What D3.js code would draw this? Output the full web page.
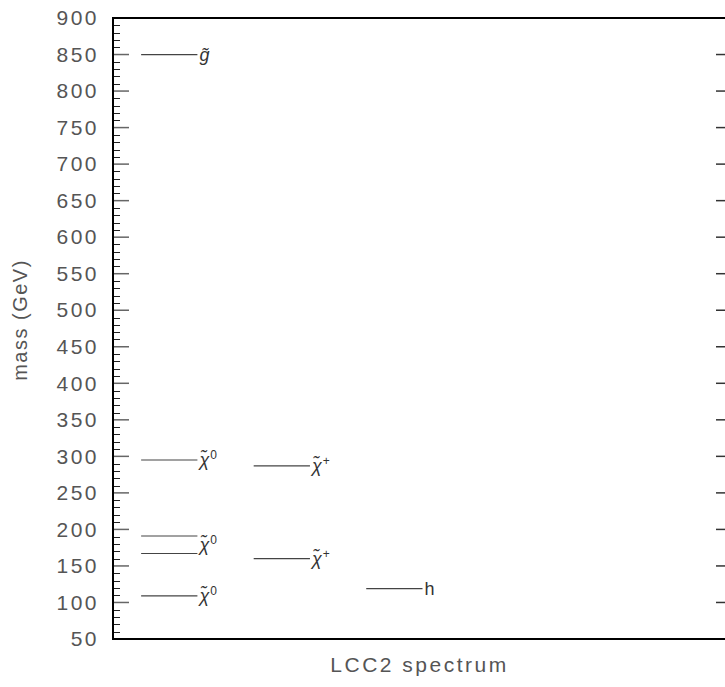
<!DOCTYPE html>
<html>
<head>
<meta charset="utf-8">
<script src="https://cdn.jsdelivr.net/npm/d3@7"></script>
<style>
  body { margin: 0; background: #fff; }
  svg { display: block; }
  text { font-family: "Liberation Sans", Arial, sans-serif; }
</style>
</head>
<body>
<div class="chart-container"></div>
<script>
// mass levels (GeV), their column and label
var levelMass   = [850, 295, 191, 167, 109, 287, 160, 119];
var levelColumn = [0,   0,   0,   0,   0,   1,   1,   2];
// labels: base glyph, superscript, column, mass at which the label sits
var labelText   = ["g\u0303", "\u03C7\u0303", "\u03C7\u0303", "\u03C7\u0303", "\u03C7\u0303", "\u03C7\u0303", "h"];
var labelSup    = ["", "0", "0", "0", "+", "+", ""];
var labelColumn = [0, 0, 0, 0, 1, 1, 2];
var labelMass   = [850, 295, 179, 109, 287, 160, 119];
var yTicks = d3.range(50, 901, 50);

draw();

function draw() {
    var W = 725, H = 687;
    var margin = { top: 18, right: -7, bottom: 48, left: 113 };

    var svg = d3.select('.chart-container').append('svg')
        .attr('width', W)
        .attr('height', H);

    var y = d3.scaleLinear().domain([50, 900]).range([H - margin.bottom, margin.top]);
    var x = d3.scaleLinear().domain([0, 5.5]).range([margin.left, W - margin.right]);

    var x0 = x(0), x1 = x(5.5);

    // minor + major ticks on the left side, pointing inward
    var minor = d3.range(50, 901, 10).filter(function (d) { return d % 50 !== 0; });
    svg.append('g').selectAll('line.minor')
        .data(minor)
        .enter().append('line')
            .attr('x1', x0).attr('x2', x0 + 7)
            .attr('y1', function (d) { return Math.round(y(d)) + 0.5; })
            .attr('y2', function (d) { return Math.round(y(d)) + 0.5; })
            .attr('stroke', '#222').attr('stroke-width', 1);
    svg.append('g').selectAll('line.major')
        .data(yTicks)
        .enter().append('line')
            .attr('x1', x0).attr('x2', x0 + 16)
            .attr('y1', function (d) { return y(d); })
            .attr('y2', function (d) { return y(d); })
            .attr('stroke', '#666').attr('stroke-width', 1.5);

    // right side ticks
    svg.append('g').selectAll('line')
        .data(minor)
        .enter().append('line')
            .attr('x1', x1).attr('x2', x1 - 7)
            .attr('y1', function (d) { return Math.round(y(d)) + 0.5; })
            .attr('y2', function (d) { return Math.round(y(d)) + 0.5; })
            .attr('stroke', '#222').attr('stroke-width', 1);
    svg.append('g').selectAll('line')
        .data(yTicks)
        .enter().append('line')
            .attr('x1', x1).attr('x2', x1 - 16)
            .attr('y1', function (d) { return y(d); })
            .attr('y2', function (d) { return y(d); })
            .attr('stroke', '#333').attr('stroke-width', 1.5);

    // tick labels
    var axis = d3.axisLeft(y).tickValues(yTicks).tickSize(0).tickPadding(14);
    var g = svg.append('g')
        .attr('transform', 'translate(' + x0 + ',0)')
        .call(axis);
    g.select('.domain').remove();
    g.selectAll('text')
        .attr('font-size', 21)
        .attr('fill', '#555')
        .attr('letter-spacing', 2.5)
        .attr('font-family', '"Liberation Sans", Arial, sans-serif');

    // frame
    svg.append('rect')
        .attr('x', x0).attr('y', y(900))
        .attr('width', x1 - x0).attr('height', y(50) - y(900))
        .attr('fill', 'none')
        .attr('stroke', '#000').attr('stroke-width', 2);

    // levels
    svg.append('g').selectAll('line')
        .data(levelMass)
        .enter().append('line')
            .attr('x1', function (d, i) { return x(levelColumn[i] + 0.25); })
            .attr('x2', function (d, i) { return x(levelColumn[i] + 0.75); })
            .attr('y1', function (d) { return y(d); })
            .attr('y2', function (d) { return y(d); })
            .attr('stroke', '#444').attr('stroke-width', 1.2);

    // labels
    var lab = svg.append('g').selectAll('text')
        .data(labelText)
        .enter().append('text')
            .attr('x', function (d, i) { return x(labelColumn[i] + 0.75) + 2; })
            .attr('y', function (d, i) { return y(labelMass[i]) + 6; })
            .attr('font-size', 18)
            .attr('fill', '#333');
    lab.append('tspan')
        .attr('font-style', function (d) { return d === 'h' ? 'normal' : 'italic'; })
        .text(function (d) { return d; });
    lab.append('tspan')
        .attr('dy', -7)
        .attr('dx', 1)
        .attr('font-size', 12)
        .text(function (d, i) { return labelSup[i]; });

    // axis titles
    svg.append('text')
        .attr('transform', 'translate(27,' + 320 + ') rotate(-90)')
        .attr('text-anchor', 'middle')
        .attr('font-size', 20)
        .attr('fill', '#555')
        .attr('letter-spacing', 1.5)
        .text('mass  (GeV)');

    svg.append('text')
        .attr('x', (x0 + x1) / 2 - 3)
        .attr('y', 672)
        .attr('text-anchor', 'middle')
        .attr('font-size', 21)
        .attr('fill', '#555')
        .attr('letter-spacing', 2.5)
        .text('LCC2  spectrum');
}
</script>
</body>
</html>
